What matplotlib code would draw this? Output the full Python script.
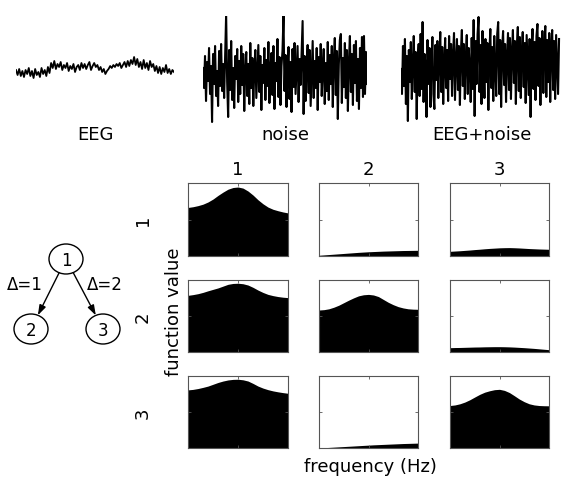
import numpy as np
import matplotlib
matplotlib.use("Agg")
import matplotlib.pyplot as plt
from matplotlib.patches import Ellipse

W, H = 562, 481

# --- top traces (amplitude in pixels, up = positive) ---
eeg = [-2, -7, -1, -8, -3, -9, -2, -6, 0, -8, -3, -10, -1, -7, -4, -9, 0, -6, -2, -8, 1, -5,
       5, 0, 7, -1, 4, 1, 6, -2, 3, 0, 5, -3, 2, -1, 4, -4, 1, 3, -2, 5, 0,
       4, -1, 3, 6, -2, 2, 5, 1, 3, -2, 1, -4, -1, -6, -3,
       -1, 2, 0, 3, 1, 4, 2, 5, 0, 3, 6, 1, 7, 2, 8, 4, 11, 3, 9, 1, 6, -1, 8, 0, 5, -2, 7, 1,
       4, -3, 2, -5, 1, -6, 0, -4, 3, -5, -1, -6, -2, -4]

noise = [8, -12, 20, -25, 14, -5, 28, -18, 10, -46, 22, -8, 30, -20, 5, -30, 25, -10, 32, -15,
         12, -22, 18, 62, -6, -41, 26, -14, 35, -24, 8, -32, 20, -3, 27, -26, 15, -18, 30, -9,
         22, -35, 6, 24, -20, 12, -28, 33, -12, 18, -30, 9, 26, -22, 4, 31, -16, 20, -34, 11,
         -7, 28, -24, 16, -10, 34, -27, 7, 23, -19, 30, -33, 13, -5, 37, -21, 19, -29, 10, 25,
         60, -15, 21, -31, 8, 29, -23, 14, -36, 27, -11, 33, -18, 6, 30, -26, 17, -9, 24, 55,
         -38, 20, -25, 11, 31, -17, 26, -30, 4, 35, -22, 15, -12, 28, -34, 19, -6, 32, -20, 9,
         27, -28, 13, -15, 34, -24, 21, -8, 30, -31, 16, 38, -19, 25, -43, 12, 36, 42, -27, 18,
         -11, 33, -22, 26, -35, 14, 40, -16, 22, -29, 31, -7, 35, -25, 17, -33, 28, -12, 39, -21,
         40, -18, 24, -8]

eeg_noise = [5, -20, 28, -12, 35, -30, 18, -47, 24, -8, 32, -25, 10, 38, -18, 22, -45, 15, 30, -22,
             40, -15, 52, -28, 20, 8, -43, 34, -10, 26, -33, 12, 37, -20, -35, 29, -6, 33, -24, 16,
             42, -18, 27, -30, 10, 36, -14, 24, -27, 38, -5, 30, -22, 19, 41, -26, 13, 35, -16, 28,
             -31, 22, 44, -12, 30, -25, 17, 39, -20, 26, 8, -28, 36, -15, 54, -42, 33, -10, 40, 57,
             -18, 29, -30, 43, 12, -24, 35, -8, 31, -36, 21, 45, -14, 27, -27, 38, 4, -22, 40, 52,
             -20, 34, -33, 26, 43, -11, 30, -28, 18, 41, -16, 36, -25, 22, 44, -9, 33, -30, 28, 47,
             -17, 37, -24, 20, 42, -13, 31, -29, 39, 8, -21, 35, -43, 26, 45, -15, 32, -26, 38, 50,
             -12, 36, -31, 24, 43, -19, 30, 48, -23, 34, -8, 41, -28, 27, 44, -16, 33, -25, 39, 11,
             -20, 35]

trace_labels = ["EEG", "noise", "EEG+noise"]

# --- function values per (row, col), sampled at 21 even frequency steps ---
freq = np.linspace(0, 1, 21)
fv_11 = [0.665, 0.675, 0.69, 0.71, 0.74, 0.78, 0.83, 0.875, 0.915, 0.938, 0.945,
         0.93, 0.89, 0.835, 0.77, 0.715, 0.67, 0.64, 0.62, 0.603, 0.59]
fv_12 = [0.01, 0.015, 0.02, 0.025, 0.03, 0.035, 0.04, 0.045, 0.05, 0.054, 0.058,
         0.061, 0.064, 0.067, 0.069, 0.071, 0.073, 0.075, 0.076, 0.077, 0.078]
fv_13 = [0.064, 0.068, 0.072, 0.077, 0.082, 0.088, 0.093, 0.099, 0.104, 0.108, 0.112,
         0.114, 0.115, 0.113, 0.11, 0.106, 0.102, 0.099, 0.096, 0.094, 0.092]
fv_21 = [0.787, 0.797, 0.81, 0.828, 0.85, 0.87, 0.89, 0.915, 0.94, 0.952, 0.955,
         0.948, 0.93, 0.898, 0.86, 0.827, 0.80, 0.783, 0.77, 0.761, 0.755]
fv_22 = [0.583, 0.588, 0.60, 0.622, 0.65, 0.685, 0.72, 0.752, 0.78, 0.795, 0.80,
         0.792, 0.77, 0.73, 0.69, 0.657, 0.63, 0.612, 0.60, 0.595, 0.593]
fv_23 = [0.06, 0.062, 0.063, 0.065, 0.067, 0.069, 0.07, 0.072, 0.073, 0.074, 0.074,
         0.073, 0.071, 0.068, 0.064, 0.06, 0.055, 0.05, 0.044, 0.038, 0.032]
fv_31 = [0.807, 0.814, 0.826, 0.842, 0.86, 0.885, 0.91, 0.93, 0.945, 0.953, 0.955,
         0.947, 0.93, 0.897, 0.86, 0.832, 0.81, 0.793, 0.78, 0.769, 0.76]
fv_32 = [0.0, 0.004, 0.008, 0.012, 0.016, 0.02, 0.024, 0.028, 0.032, 0.036, 0.04,
         0.044, 0.047, 0.05, 0.053, 0.056, 0.059, 0.062, 0.064, 0.066, 0.068]
fv_33 = [0.59, 0.598, 0.614, 0.638, 0.67, 0.708, 0.745, 0.775, 0.795, 0.81, 0.815,
         0.80, 0.77, 0.726, 0.68, 0.643, 0.614, 0.598, 0.59, 0.587, 0.586]
grid_labels = ["1", "2", "3"]

# --- tree diagram ---
node_labels = ["1", "2", "3"]
node_x = [66, 31, 103]
node_y = [30, 100, 100]
edges = [(0, 1), (0, 2)]
edge_labels = ["\u0394=1", "\u0394=2"]

plt.rcParams['font.family'] = ['DejaVu Sans']
FS = 13

fig = plt.figure(figsize=(W / 100, H / 100), dpi=100)


def ax_px(x0, y0, x1, y1):
    return fig.add_axes([x0 / W, 1 - y1 / H, (x1 - x0) / W, (y1 - y0) / H])


# traces
trace_boxes = [(16, 174, 69), (203, 367, 77), (401, 562, 75)]
trace_lw = [1.3, 1.5, 1.5]
for sig, (x0, x1, yc), lab, lw in zip([eeg, noise, eeg_noise], trace_boxes, trace_labels, trace_lw):
    ax = ax_px(x0, yc - 60, x1, yc + 60)
    ax.plot(np.arange(len(sig)), sig, color='black', lw=lw)
    ax.set_xlim(0, len(sig) - 1)
    ax.set_ylim(-60, 60)
    ax.axis('off')
    fig.text((x0 + x1) / 2 / W, 1 - 135 / H, lab, ha='center', va='center', fontsize=FS)
fig.axes[-1].set_xlim(0, len(eeg_noise) + 2)

# grid of spectra
col_x = [(188, 288), (319, 418), (450, 549)]
row_y = [(184, 257), (281, 353), (377, 449)]
curves = [[fv_11, fv_12, fv_13], [fv_21, fv_22, fv_23], [fv_31, fv_32, fv_33]]
for r, (y0, y1) in enumerate(row_y):
    for c, (x0, x1) in enumerate(col_x):
        ax = ax_px(x0, y0, x1, y1)
        ax.fill_between(freq, 0, curves[r][c], color='black', lw=0)
        ax.set_xlim(0, 1)
        ax.set_ylim(0, 1)
        ax.set_xticks([0.5])
        ax.set_yticks([0.5])
        ax.tick_params(direction='in', length=2.5, width=0.6, colors='#555555',
                       top=True, right=True, labelbottom=False, labelleft=False)
        for s in ax.spines.values():
            s.set_color('#555555')
            s.set_linewidth(0.8)

for (x0, x1), lab in zip(col_x, grid_labels):
    fig.text((x0 + x1) / 2 / W, 1 - 170 / H, lab, ha='center', va='center', fontsize=FS)
for (y0, y1), lab in zip(row_y, grid_labels):
    fig.text(143 / W, 1 - (y0 + y1) / 2 / H, lab, ha='center', va='center',
             rotation=90, fontsize=FS)
fig.text(174 / W, 1 - 312 / H, "function value", ha='center', va='center',
         rotation=90, fontsize=FS)
fig.text(370 / W, 1 - 467 / H, "frequency (Hz)", ha='center', va='center', fontsize=FS)

# tree
tax = ax_px(0, 230, 134, 360)
tax.set_xlim(0, 134)
tax.set_ylim(130, 0)
tax.axis('off')
a, b = 17, 15
for nx, ny, lab in zip(node_x, node_y, node_labels):
    tax.add_patch(Ellipse((nx, ny), 2 * a, 2 * b, fill=False, lw=1.0, ec='black'))
    tax.text(nx, ny + 1, lab, ha='center', va='center', fontsize=FS - 1)
for (i, j), lab in zip(edges, edge_labels):
    dx, dy = node_x[j] - node_x[i], node_y[j] - node_y[i]
    L = np.hypot(dx, dy)
    ux, uy = dx / L, dy / L
    rr = 1 / np.sqrt((ux / a) ** 2 + (uy / b) ** 2)
    start = (node_x[i] + ux * rr, node_y[i] + uy * rr)
    end = (node_x[j] - ux * rr, node_y[j] - uy * rr)
    tax.annotate('', xy=end, xytext=start,
                 arrowprops=dict(arrowstyle='-|>,head_length=0.6,head_width=0.2',
                                 color='black', lw=1.0, mutation_scale=10,
                                 shrinkA=0, shrinkB=0))
    lx = node_x[i] + (-41 if dx < 0 else 39)
    tax.text(lx, 55, lab, ha='center', va='center', fontsize=FS - 1)

fig.savefig("out.png", dpi=100)
